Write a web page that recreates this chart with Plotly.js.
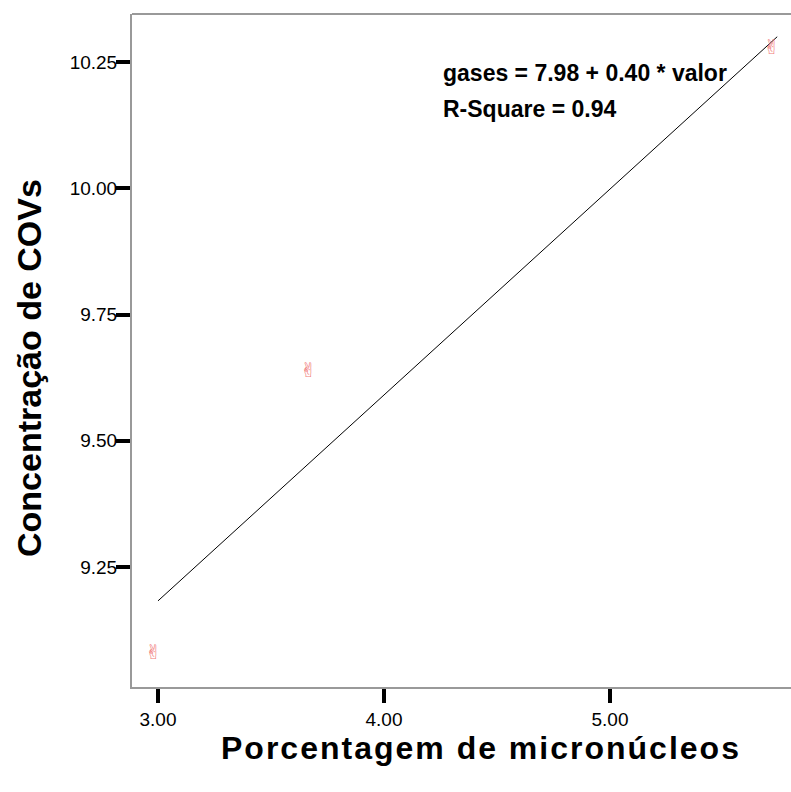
<!DOCTYPE html>
<html>
<head>
<meta charset="utf-8">
<script src="https://cdn.plot.ly/plotly-3.0.1.min.js"></script>
<style>
html,body{margin:0;padding:0;overflow:hidden;background:#fff;}
.xlabel-ann text{letter-spacing:2px;}
</style>
</head>
<body>
<div id="chart" style="width:791px;height:792px;"></div>
<script>
// Observed data
const micronucleos = [2.98, 3.665, 5.715];
const gases = [9.078, 9.637, 10.276];
// Fit line endpoints (as drawn)
const fitX = [3.0, 5.74];
const fitY = [9.183, 10.300];
const xTicks = [3, 4, 5];
const xTickLabels = ["3.00", "4.00", "5.00"];
const yTicks = [9.25, 9.5, 9.75, 10.0, 10.25];
const yTickLabels = ["9.25", "9.50", "9.75", "10.00", "10.25"];

const font = "Liberation Sans, Arial, sans-serif";

const traces = [
  {
    x: fitX, y: fitY, mode: "lines", type: "scatter",
    line: {color: "#000", width: 1}, hoverinfo: "skip", showlegend: false
  },
  {
    x: micronucleos, y: gases, mode: "text", type: "scatter",
    text: micronucleos.map(() => "\u270C"),
    textposition: "middle center",
    textfont: {family: "DejaVu Sans", size: 20, color: "#f07878"},
    showlegend: false
  }
];

const layout = {
  width: 791, height: 792,
  margin: {l: 132, r: 0, t: 14, b: 105},
  paper_bgcolor: "#fff", plot_bgcolor: "#fff",
  showlegend: false,
  xaxis: {
    range: [2.885, 5.801], showgrid: false, zeroline: false,
    showline: true, linecolor: "#999", linewidth: 2, mirror: false,
    tickmode: "array", tickvals: xTicks, ticktext: xTickLabels,
    ticks: "outside", ticklen: 14, tickwidth: 4, tickcolor: "#000",
    tickfont: {family: font, size: 19, color: "#000"}
  },
  yaxis: {
    range: [9.0125, 10.345], showgrid: false, zeroline: false,
    showline: true, linecolor: "#999", linewidth: 2, mirror: false,
    tickmode: "array", tickvals: yTicks, ticktext: yTickLabels,
    ticks: "outside", ticklen: 14, tickwidth: 4, tickcolor: "#000",
    ticklabelstandoff: -5,
    tickfont: {family: font, size: 19, color: "#000"}
  },
  shapes: [
    {type: "line", xref: "paper", yref: "paper", x0: 0, x1: 1, y0: 1, y1: 1, line: {color: "#999", width: 2}}
  ],
  annotations: [
    {xref: "paper", yref: "paper", x: (441-132)/659, y: 1-(73-14)/673, xanchor: "left", yanchor: "middle",
     text: "<b>gases = 7.98 + 0.40 * valor</b>", showarrow: false, font: {family: font, size: 23, color: "#000"}},
    {xref: "paper", yref: "paper", x: (441-132)/659, y: 1-(109-14)/673, xanchor: "left", yanchor: "middle",
     text: "<b>R-Square = 0.94</b>", showarrow: false, font: {family: font, size: 23, color: "#000"}},
    {xref: "paper", yref: "paper", x: (481-132)/659, y: 1-(748-14)/673, xanchor: "center", yanchor: "middle",
     text: "<b>Porcentagem de micronúcleos</b>", showarrow: false, font: {family: font, size: 32, color: "#000"}},
    {xref: "paper", yref: "paper", x: (29-132)/659, y: 1-(368-14)/673, xanchor: "center", yanchor: "middle",
     text: "<b>Concentração de COVs</b>", showarrow: false, textangle: -90, font: {family: font, size: 34, color: "#000"}}
  ]
};

Plotly.newPlot("chart", traces, layout, {displayModeBar: false, staticPlot: true}).then(() => {
  const anns = document.querySelectorAll(".annotation");
  anns[2].classList.add("xlabel-ann");
});
</script>
</body>
</html>
